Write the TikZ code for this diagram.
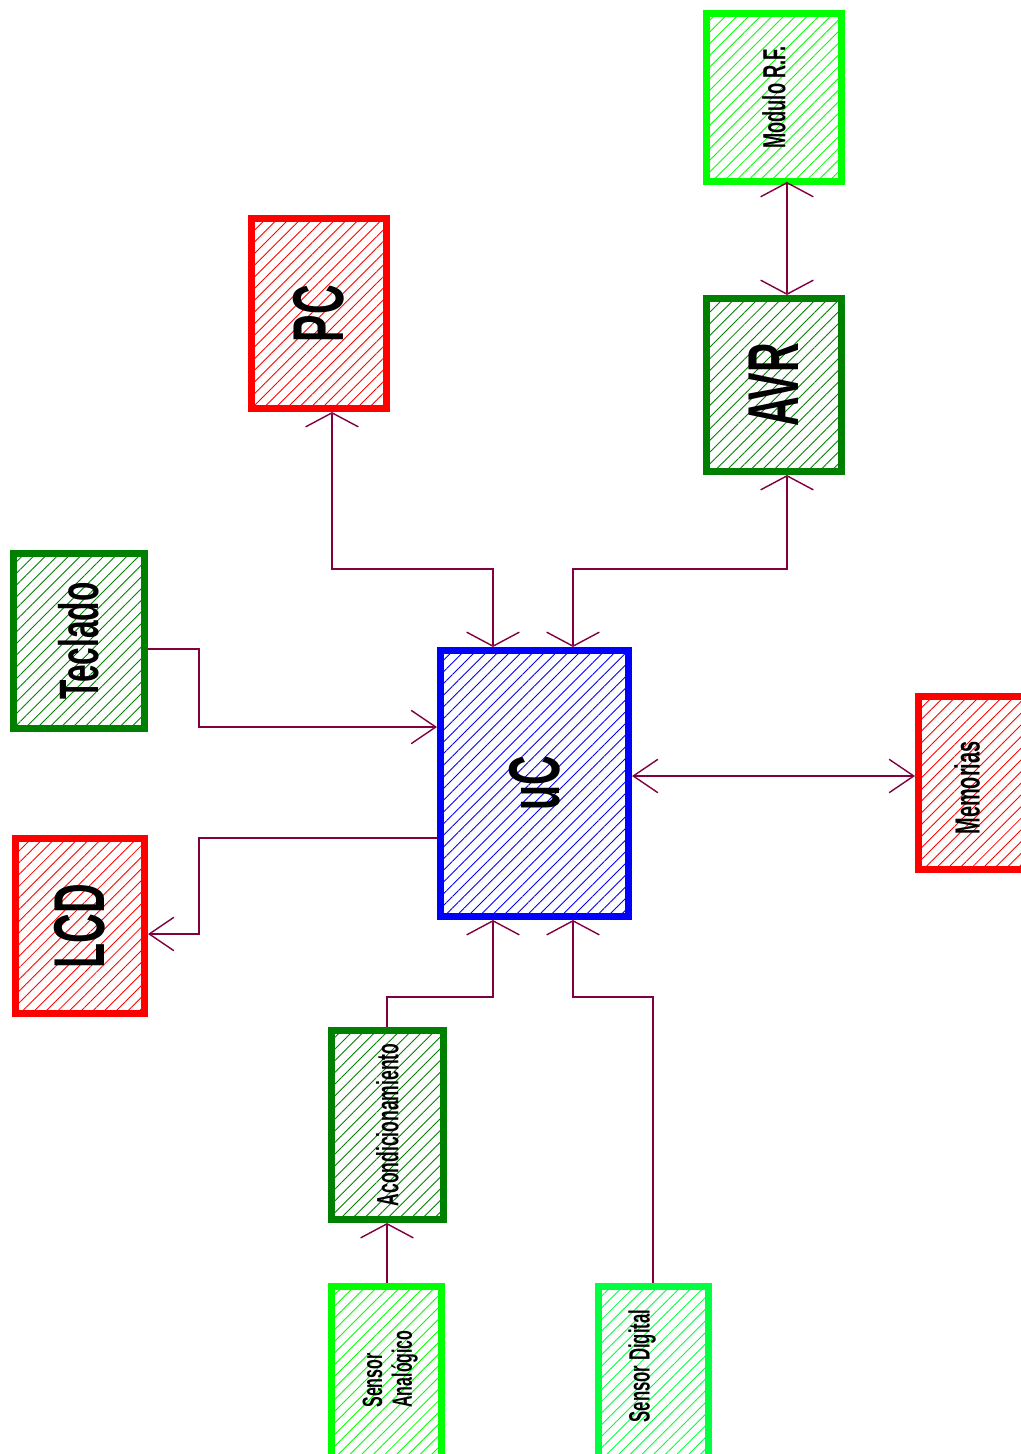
\documentclass[tikz,border=0pt]{standalone}
\usepackage{fontspec}
\setmainfont{Liberation Sans}
\usepackage{graphicx}
\usetikzlibrary{arrows.meta,patterns.meta}

\definecolor{wire}{RGB}{128,0,64}
\definecolor{dkgreen}{RGB}{0,128,0}
\definecolor{ltgreen}{RGB}{0,255,0}
\definecolor{sgreen}{RGB}{0,255,64}

% narrow text, standing upright in the blocks
\newcommand{\vtext}[1]{\rotatebox{90}{\scalebox{0.57}[1]{#1}}}

\tikzset{
  block/.style={draw=#1, line width=4pt, inner sep=0pt,
    pattern={Lines[angle=45,distance=4.7pt,line width=0.5pt]}, pattern color=#1},
  boxsize/.style 2 args={minimum width=#1*0.02cm, minimum height=#2*0.02cm},
  bigtxt/.style={font=\bfseries\fontsize{41}{45}\selectfont},
  midtxt/.style={font=\bfseries\fontsize{31.6}{35}\selectfont},
  smalltxt/.style={font=\bfseries\fontsize{#1}{17}\selectfont},
  wire/.style={draw=wire, line width=1.1pt},
  vtip/.style={>={Straight Barb[length=8pt,width=30pt,line width=0.8pt]}},
  htip/.style={>={Straight Barb[length=14pt,width=19pt,line width=0.8pt]}}
}

\begin{document}
\begin{tikzpicture}[x=0.02cm, y=-0.02cm]
\useasboundingbox (0,0) rectangle (1021,1454);
\clip (0,0) rectangle (1021,1454);

% blocks
\node[block=ltgreen, boxsize={135}{168}, smalltxt=18.2] (modrf) at (774,97.5) {\vtext{Modulo R.F.}};
\node[block=red, boxsize={135}{190}, bigtxt] (pc) at (319,313.5) {\vtext{PC}};
\node[block=dkgreen, boxsize={135}{173}, bigtxt] (avr) at (774,385) {\vtext{AVR}};
\node[block=dkgreen, boxsize={131}{175}, midtxt] (tecl) at (79,641) {\vtext{Teclado}};
\node[block=blue, boxsize={188}{266}, bigtxt] (uc) at (534.5,783.5) {\vtext{uC}};
\node[block=red, boxsize={129}{175}, bigtxt] (lcd) at (80,926) {\vtext{LCD}};
\node[block=red, boxsize={134}{173}] (mem) at (985.5,783) {};
\node[smalltxt=19.9] (memtxt) at (967,788) {\vtext{Memorias}};
\node[block=dkgreen, boxsize={112}{189}, smalltxt=17.5] (acond) at (387.5,1125) {\vtext{Acondicionamiento}};
\node[block=ltgreen, boxsize={110}{190}] (sanal) at (386.5,1381.5) {};
\node[smalltxt=15.9] (sanaltxt) at (391,1369)
  {\vtext{\begin{tabular}{@{}l@{}}Sensor\\Analógico\end{tabular}}};
\node[block=sgreen, boxsize={110}{190}] (sdig) at (653.5,1381.5) {};
\node[smalltxt=16.7] (sdigtxt) at (642,1366) {\vtext{Sensor Digital}};

% connections
\draw[wire, vtip, <->] (modrf.south -| 787,0) -- (avr.north -| 787,0);
\draw[wire, vtip, <->] (pc.south -| 332,0) |- (493,569) -- (uc.north -| 493,0);
\draw[wire, vtip, <->] (avr.south -| 787,0) |- (573,569) -- (uc.north -| 573,0);
\draw[wire, htip, ->] (tecl.east |- 0,649) -| (199,727) -- (uc.west |- 0,727);
\draw[wire, htip, ->] (uc.west |- 0,838) -| (199,934) -- (lcd.east |- 0,934);
\draw[wire, htip, <->] (uc.east |- 0,776) -- (mem.west |- 0,776);
\draw[wire, vtip, ->] (acond.north -| 387,0) |- (493,997) -- (uc.south -| 493,0);
\draw[wire, vtip, ->] (sanal.north -| 387,0) -- (acond.south -| 387,0);
\draw[wire, vtip, ->] (sdig.north -| 653,0) |- (573,997) -- (uc.south -| 573,0);
\end{tikzpicture}
\end{document}
